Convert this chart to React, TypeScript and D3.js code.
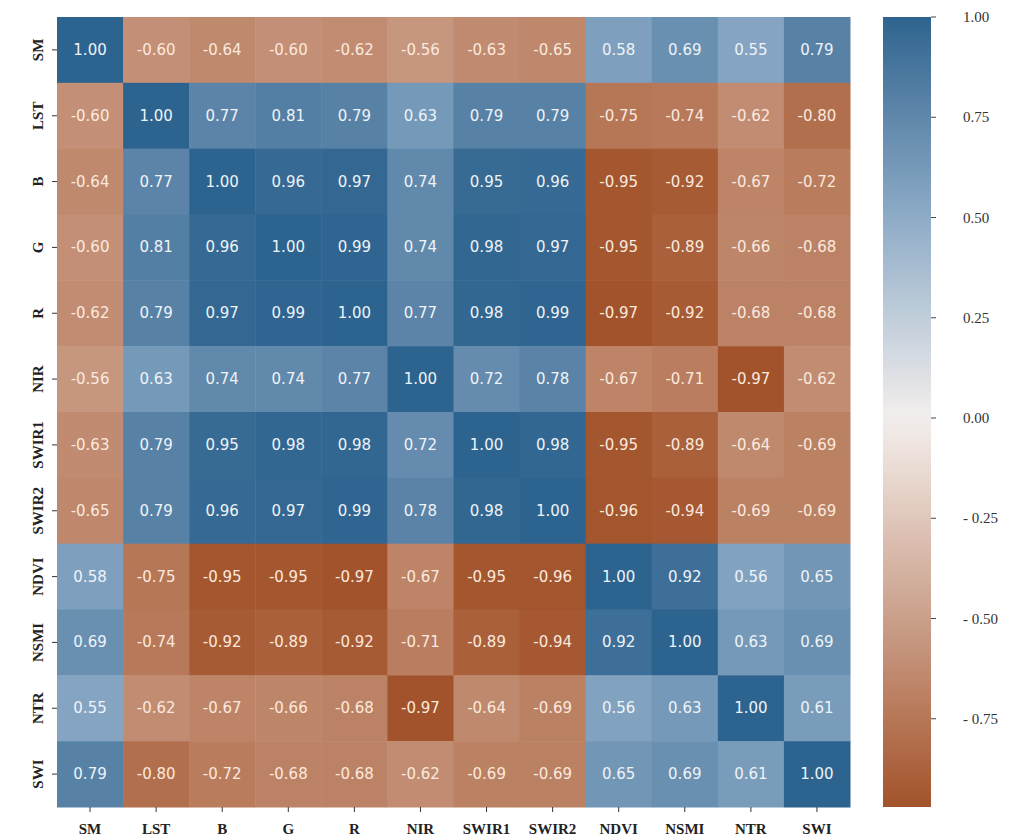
import React from "react";
import * as d3 from "d3";

const variables = ["SM", "LST", "B", "G", "R", "NIR", "SWIR1", "SWIR2", "NDVI", "NSMI", "NTR", "SWI"];

const rowSM = [1.0, -0.6, -0.64, -0.6, -0.62, -0.56, -0.63, -0.65, 0.58, 0.69, 0.55, 0.79];
const rowLST = [-0.6, 1.0, 0.77, 0.81, 0.79, 0.63, 0.79, 0.79, -0.75, -0.74, -0.62, -0.8];
const rowB = [-0.64, 0.77, 1.0, 0.96, 0.97, 0.74, 0.95, 0.96, -0.95, -0.92, -0.67, -0.72];
const rowG = [-0.6, 0.81, 0.96, 1.0, 0.99, 0.74, 0.98, 0.97, -0.95, -0.89, -0.66, -0.68];
const rowR = [-0.62, 0.79, 0.97, 0.99, 1.0, 0.77, 0.98, 0.99, -0.97, -0.92, -0.68, -0.68];
const rowNIR = [-0.56, 0.63, 0.74, 0.74, 0.77, 1.0, 0.72, 0.78, -0.67, -0.71, -0.97, -0.62];
const rowSWIR1 = [-0.63, 0.79, 0.95, 0.98, 0.98, 0.72, 1.0, 0.98, -0.95, -0.89, -0.64, -0.69];
const rowSWIR2 = [-0.65, 0.79, 0.96, 0.97, 0.99, 0.78, 0.98, 1.0, -0.96, -0.94, -0.69, -0.69];
const rowNDVI = [0.58, -0.75, -0.95, -0.95, -0.97, -0.67, -0.95, -0.96, 1.0, 0.92, 0.56, 0.65];
const rowNSMI = [0.69, -0.74, -0.92, -0.89, -0.92, -0.71, -0.89, -0.94, 0.92, 1.0, 0.63, 0.69];
const rowNTR = [0.55, -0.62, -0.67, -0.66, -0.68, -0.97, -0.64, -0.69, 0.56, 0.63, 1.0, 0.61];
const rowSWI = [0.79, -0.8, -0.72, -0.68, -0.68, -0.62, -0.69, -0.69, 0.65, 0.69, 0.61, 1.0];

const matrix = [rowSM, rowLST, rowB, rowG, rowR, rowNIR, rowSWIR1, rowSWIR2, rowNDVI, rowNSMI, rowNTR, rowSWI];

const colorbarTicks = [1.0, 0.75, 0.5, 0.25, 0.0, -0.25, -0.5, -0.75];
const colorbarTickLabels = ["1.00", "0.75", "0.50", "0.25", "0.00", "- 0.25", "- 0.50", "- 0.75"];

const vmin = -0.97;
const vmax = 1.0;

const colorStops = [vmin, -0.5, 0, 0.5, vmax];
const colorValues = ["#a2532b", "#caa08b", "#f3efed", "#8dacc7", "#2d648f"];

export default function App() {
  const width = 1019;
  const height = 839;
  const left = 57;
  const top = 17;
  const right = 850;
  const bottom = 807;

  const x = d3.scaleBand<string>().domain(variables).range([left, right]);
  const y = d3.scaleBand<string>().domain(variables).range([top, bottom]);
  const color = d3
    .scaleLinear<string>()
    .domain(colorStops)
    .range(colorValues)
    .interpolate(d3.interpolateLab)
    .clamp(true);

  const cbLeft = 883;
  const cbRight = 931;
  const cbY = d3.scaleLinear().domain([vmin, vmax]).range([bottom, top]);
  const gradientStops = d3.range(0, 41).map((i) => vmin + ((vmax - vmin) * i) / 40);

  const serif = "'Liberation Serif', 'Times New Roman', serif";
  const sans = "'DejaVu Sans', sans-serif";

  return (
    <svg
      width={width}
      height={height}
      style={{ position: "absolute", left: 0, top: 0, background: "#fff" }}
    >
      <defs>
        <linearGradient id="cbGrad" x1="0" y1="1" x2="0" y2="0">
          {gradientStops.map((v, i) => (
            <stop key={i} offset={(v - vmin) / (vmax - vmin)} stopColor={color(v)} />
          ))}
        </linearGradient>
      </defs>

      {/* cells */}
      {matrix.map((row, ri) =>
        row.map((v, ci) => (
          <rect
            key={`c-${ri}-${ci}`}
            x={x(variables[ci])}
            y={y(variables[ri])}
            width={x.bandwidth() + 0.5}
            height={y.bandwidth() + 0.5}
            fill={color(v)}
          />
        ))
      )}

      {/* annotations */}
      {matrix.map((row, ri) =>
        row.map((v, ci) => (
          <text
            key={`t-${ri}-${ci}`}
            x={(x(variables[ci]) as number) + x.bandwidth() / 2}
            y={(y(variables[ri]) as number) + y.bandwidth() / 2}
            textAnchor="middle"
            dominantBaseline="central"
            fontFamily={sans}
            fontSize={15}
            fill={v < 0 ? "#fbe9df" : "#eef3f8"}
          >
            {v.toFixed(2)}
          </text>
        ))
      )}

      {/* x axis */}
      {variables.map((name) => {
        const cx = (x(name) as number) + x.bandwidth() / 2;
        return (
          <g key={`xa-${name}`}>
            <line x1={cx} x2={cx} y1={bottom} y2={bottom + 5} stroke="#333" strokeWidth={1} />
            <text
              x={cx}
              y={bottom + 27}
              textAnchor="middle"
              fontFamily={serif}
              fontWeight="bold"
              fontSize={15}
              fill="#222"
            >
              {name}
            </text>
          </g>
        );
      })}

      {/* y axis */}
      {variables.map((name) => {
        const cy = (y(name) as number) + y.bandwidth() / 2;
        return (
          <g key={`ya-${name}`}>
            <line x1={left - 5} x2={left} y1={cy} y2={cy} stroke="#333" strokeWidth={1} />
            <text
              transform={`translate(${left - 14},${cy}) rotate(-90)`}
              textAnchor="middle"
              fontFamily={serif}
              fontWeight="bold"
              fontSize={15}
              fill="#222"
            >
              {name}
            </text>
          </g>
        );
      })}

      {/* colorbar */}
      <rect x={cbLeft} y={top} width={cbRight - cbLeft} height={bottom - top} fill="url(#cbGrad)" />
      {colorbarTicks.map((t, i) => (
        <g key={`cb-${i}`}>
          <line x1={cbRight} x2={cbRight + 5} y1={cbY(t)} y2={cbY(t)} stroke="#444" strokeWidth={1} />
          <text
            x={963}
            y={cbY(t)}
            dominantBaseline="central"
            fontFamily={serif}
            fontSize={15}
            fill="#333"
          >
            {colorbarTickLabels[i]}
          </text>
        </g>
      ))}
    </svg>
  );
}
